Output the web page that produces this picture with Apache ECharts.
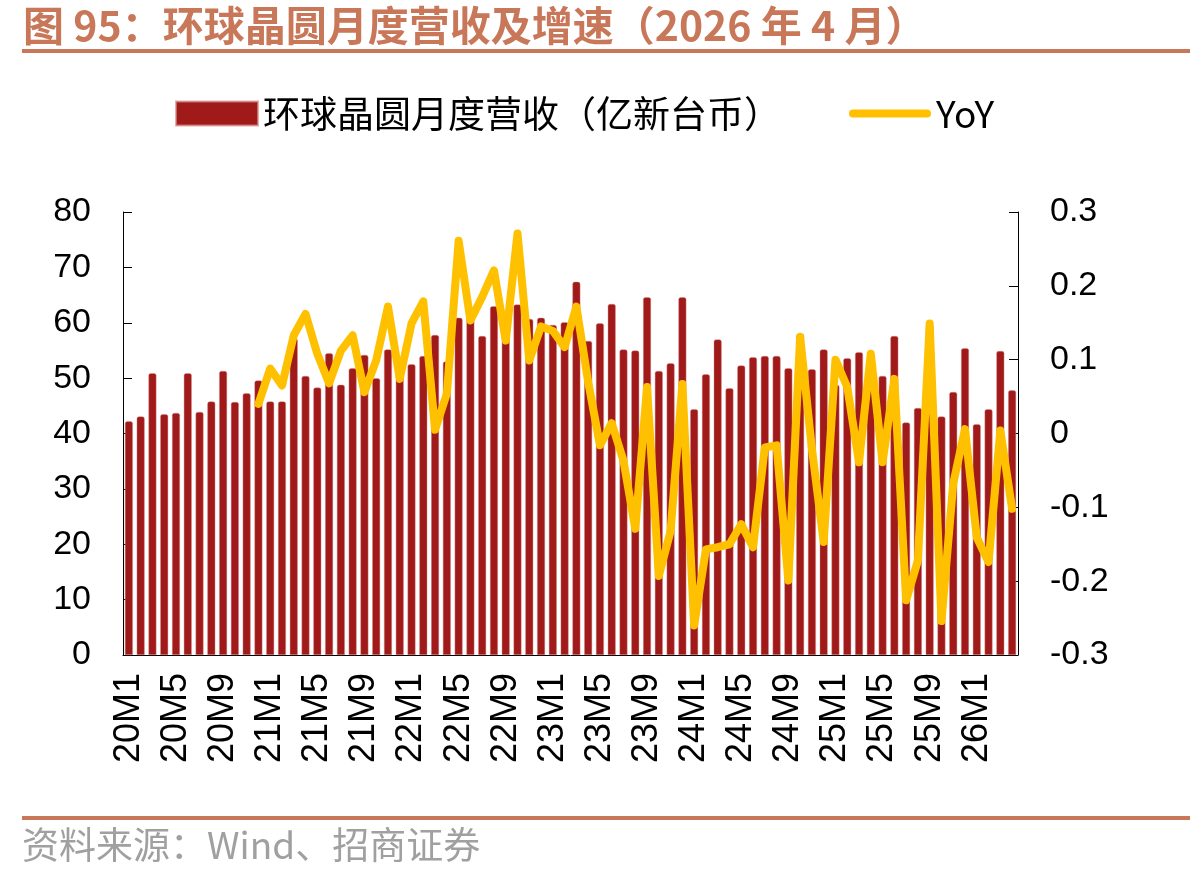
<!DOCTYPE html>
<html>
<head>
<meta charset="utf-8">
<title>环球晶圆月度营收及增速</title>
<script src="https://cdn.jsdelivr.net/npm/echarts@6/dist/echarts.min.js"></script>
<style>
  html, body { margin: 0; padding: 0; background: #fff; }
  #chart { width: 1190px; height: 880px; }
</style>
</head>
<body>
<div id="chart"></div>
<script>
// 月份类目 (20M1 ~ 26M4)
const months = [
  '20M1','20M2','20M3','20M4','20M5','20M6','20M7','20M8','20M9','20M10','20M11','20M12',
  '21M1','21M2','21M3','21M4','21M5','21M6','21M7','21M8','21M9','21M10','21M11','21M12',
  '22M1','22M2','22M3','22M4','22M5','22M6','22M7','22M8','22M9','22M10','22M11','22M12',
  '23M1','23M2','23M3','23M4','23M5','23M6','23M7','23M8','23M9','23M10','23M11','23M12',
  '24M1','24M2','24M3','24M4','24M5','24M6','24M7','24M8','24M9','24M10','24M11','24M12',
  '25M1','25M2','25M3','25M4','25M5','25M6','25M7','25M8','25M9','25M10','25M11','25M12',
  '26M1','26M2','26M3','26M4'
];

// 月度营收 (亿新台币)
const revenue = [
  42.2, 43.1, 50.9, 43.5, 43.7, 50.9, 43.9, 45.8, 51.3, 45.7, 47.3, 49.6,
  45.8, 45.8, 57.2, 50.4, 48.3, 54.5, 48.8, 51.8, 54.2, 50.0, 55.2, 53.3,
  52.5, 54.0, 57.8, 53.0, 60.9, 62.3, 57.6, 63.0, 61.0, 63.3, 60.7, 60.9,
  59.6, 60.1, 67.4, 56.7, 59.9, 63.4, 55.2, 55.0, 64.6, 51.3, 52.7, 64.6,
  44.4, 50.7, 57.0, 48.2, 52.3, 53.8, 54.0, 54.0, 51.8, 58.0, 51.6, 55.2,
  48.8, 53.6, 54.7, 53.4, 50.4, 57.6, 42.0, 44.6, 59.5, 43.1, 47.5, 55.4,
  41.7, 44.4, 54.9, 47.8
];

// 同比增速 YoY (从 20M12 开始有数据)
const yoy = [
  null, null, null, null, null, null, null, null, null, null, null, 0.040,
  0.088, 0.065, 0.133, 0.162, 0.108, 0.068, 0.112, 0.133, 0.056, 0.099, 0.172, 0.074,
  0.149, 0.179, 0.005, 0.054, 0.261, 0.153, 0.185, 0.221, 0.126, 0.271, 0.099, 0.145,
  0.139, 0.117, 0.172, 0.070, -0.016, 0.014, -0.037, -0.129, 0.063, -0.193, -0.132, 0.067,
  -0.260, -0.157, -0.154, -0.150, -0.123, -0.154, -0.019, -0.016, -0.199, 0.131, -0.021, -0.147,
  0.100, 0.063, -0.039, 0.108, -0.039, 0.074, -0.226, -0.172, 0.149, -0.254, -0.068, 0.006,
  -0.141, -0.174, 0.004, -0.102
];

// 左右轴刻度
const leftAxis = { min: 0, max: 80, interval: 10 };
const rightAxis = { min: -0.3, max: 0.3, interval: 0.1 };

const titleText = '图 95：环球晶圆月度营收及增速（2026 年 4 月）';
const sourceText = '资料来源：Wind、招商证券';
const barName = '环球晶圆月度营收（亿新台币）';
const lineName = 'YoY';

const accent = '#c97759';   // 标题/分割线颜色
const numFont = 'Liberation Sans';
const cjkFont = 'Noto Sans CJK SC';

const chart = echarts.init(document.getElementById('chart'));

const option = {
  backgroundColor: '#fff',
  animation: false,
  title: {
    text: titleText,
    left: 18,
    top: 0,
    textStyle: {
      color: accent,
      fontFamily: cjkFont,
      fontWeight: 'bold',
      fontSize: 41
    }
  },
  graphic: [
    // 标题下方的横线
    { type: 'rect', shape: { x: 22, y: 49, width: 1168, height: 4 }, style: { fill: accent } },
    // 底部横线
    { type: 'rect', shape: { x: 22, y: 816, width: 1168, height: 4 }, style: { fill: accent } },
    // 资料来源
    {
      type: 'text', left: 22, top: 826,
      style: { text: sourceText, fill: '#a0a0a0', font: '37px "Noto Sans CJK SC"' }
    }
  ],
  legend: {
    left: 170,
    top: 90,
    itemWidth: 82,
    itemHeight: 24,
    itemGap: 68,
    textStyle: { color: '#000', fontSize: 37, fontFamily: cjkFont },
    data: [
      { name: barName, icon: 'rect' },
      // 图例中的 YoY 用粗线表示
      { name: lineName, icon: 'path://M4,0L78,0A4,4,0,0,1,78,8L4,8A4,4,0,0,1,4,0Z' }
    ]
  },
  grid: { left: 123, right: 172, top: 212, bottom: 225 },
  xAxis: {
    type: 'category',
    data: months,
    boundaryGap: true,
    axisLine: { lineStyle: { color: '#000', width: 1 } },
    axisTick: { inside: true, length: 10, interval: 0, lineStyle: { color: '#000' } },
    axisLabel: {
      interval: 3,
      rotate: 90,
      margin: 18,
      color: '#000',
      fontSize: 36,
      fontFamily: numFont
    },
    splitLine: { show: false }
  },
  yAxis: [
    {
      type: 'value',
      min: leftAxis.min,
      max: leftAxis.max,
      interval: leftAxis.interval,
      axisLine: { show: true, lineStyle: { color: '#000' } },
      axisTick: { show: true, inside: true, length: 9, lineStyle: { color: '#000' } },
      axisLabel: { margin: 32, color: '#000', fontSize: 34, fontFamily: numFont },
      splitLine: { show: false }
    },
    {
      type: 'value',
      min: rightAxis.min,
      max: rightAxis.max,
      interval: rightAxis.interval,
      position: 'right',
      axisLine: { show: true, lineStyle: { color: '#000' } },
      axisTick: { show: true, inside: true, length: 9, lineStyle: { color: '#000' } },
      axisLabel: {
        margin: 32,
        color: '#000',
        fontSize: 34,
        fontFamily: numFont,
        formatter: function (v) { return String(+v.toFixed(1)); }
      },
      splitLine: { show: false }
    }
  ],
  series: [
    {
      name: barName,
      type: 'bar',
      yAxisIndex: 0,
      data: revenue,
      barWidth: 8,
      itemStyle: {
        color: '#a11a1a',
        borderColor: 'rgba(214,140,140,0.7)',
        borderWidth: 0.6,
        borderRadius: [2, 2, 0, 0]
      },
      z: 2
    },
    {
      name: lineName,
      type: 'line',
      yAxisIndex: 1,
      data: yoy,
      symbol: 'none',
      showSymbol: false,
      connectNulls: false,
      itemStyle: { color: '#ffc000' },
      lineStyle: { color: '#ffc000', width: 8, cap: 'round', join: 'round' },
      z: 3
    }
  ]
};

option && chart.setOption(option);
</script>
</body>
</html>
